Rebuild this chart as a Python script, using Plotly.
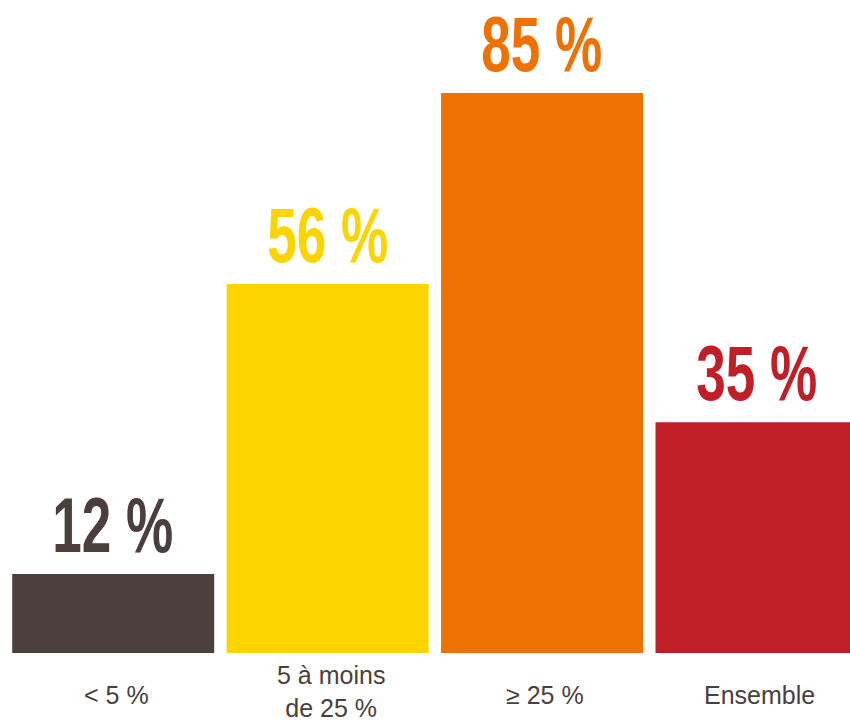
import plotly.graph_objects as go

categories = ["< 5 %", "5 à moins de 25 %", "≥ 25 %", "Ensemble"]
tick_labels = ["< 5 %", "5 à moins<br>de 25 %", "≥ 25 %", "Ensemble"]
values = [12, 56, 85, 35]
colors = ["#4b3f3d", "#fcd500", "#ee7203", "#c01f28"]

fig = go.Figure(
    go.Bar(
        x=categories,
        y=values,
        marker=dict(color=colors, line=dict(width=0)),
        hoverinfo="skip",
    )
)

annotations = []
for cat, val, col in zip(categories, values, colors):
    annotations.append(dict(
        x=cat, y=val, xref="x", yref="y",
        text=f"{val} %", showarrow=False,
        yanchor="bottom", xanchor="center", yshift=4,
        font=dict(family="Liberation Sans, Arial, sans-serif", size=77, color=col, weight="bold"),
    ))
for cat, lab in zip(categories, tick_labels):
    annotations.append(dict(
        x=cat, y=-0.064, xref="x", yref="paper",
        text=lab, showarrow=False,
        yanchor="middle", xanchor="center", xshift=3,
        yshift=3 if "<br>" in lab else 0,
        font=dict(family="Liberation Sans, Arial, sans-serif", size=25, color="#4a3f3c"),
    ))

fig.update_layout(
    width=850, height=721,
    margin=dict(l=6, r=0, t=0, b=68),
    paper_bgcolor="white", plot_bgcolor="white",
    bargap=0.058,
    showlegend=False,
    xaxis=dict(range=[-0.5, 3.436], showticklabels=False, showgrid=False,
               zeroline=False, showline=False, ticks=""),
    yaxis=dict(range=[0, 99.1], visible=False, showgrid=False, zeroline=False),
    annotations=annotations,
)

# condense the big value labels horizontally (the reference uses a compressed display face)
post = """
document.body.style.margin='0';
document.body.style.overflow='hidden';
document.querySelectorAll('text.annotation-text').forEach(function(el){
  if (parseFloat(el.style.fontSize) > 40) {
    el.style.transformBox='fill-box';
    el.style.transformOrigin='center';
    el.style.transform='scaleX(0.69)';
  }
});
"""

fig.write_html("out.html", config={"displayModeBar": False}, post_script=post)
